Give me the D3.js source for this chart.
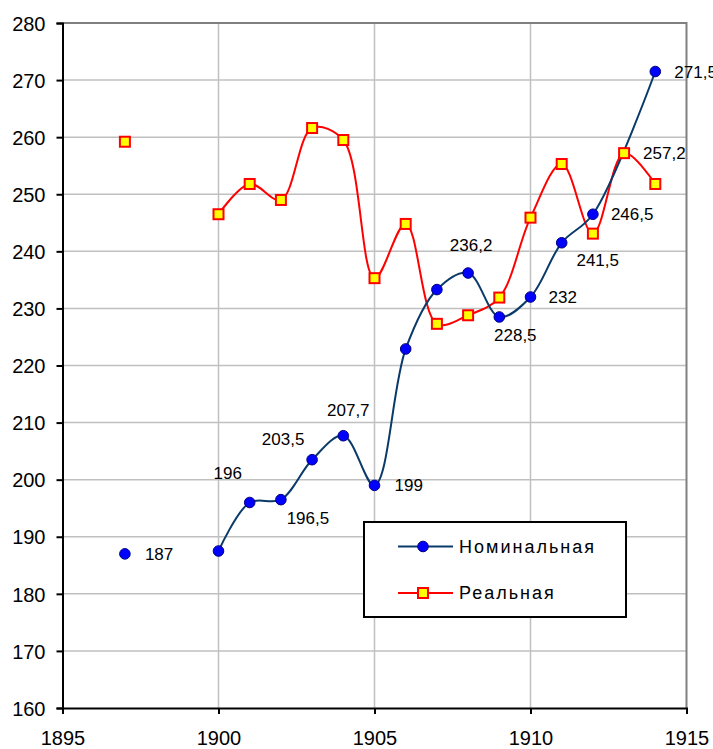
<!DOCTYPE html>
<html>
<head>
<meta charset="utf-8">
<script src="https://cdn.jsdelivr.net/npm/d3@7/dist/d3.min.js"></script>
<style>
  html, body { margin: 0; padding: 0; background: #fff; }
  svg { display: block; }
  text { font-family: Arial, "Liberation Sans", sans-serif; fill: #000; }
</style>
</head>
<body>
<svg id="chart" width="713" height="749"></svg>
<script>
// ---- data ----
const baseYear = 1897;
const nominalBase = 187;
const realBase = 259.2;

const years   = [1900, 1901, 1902, 1903, 1904, 1905, 1906, 1907, 1908, 1909, 1910, 1911, 1912, 1913, 1914];
const nominal = [187.5, 196, 196.5, 203.5, 207.7, 199, 222.9, 233.3, 236.2, 228.5, 232, 241.5, 246.5, null, 271.5];
const real    = [246.5, 251.8, 249.0, 261.6, 259.5, 235.3, 244.8, 227.3, 228.8, 231.9, 245.9, 255.3, 243.1, 257.2, 251.8];

const xTicks = [1895, 1900, 1905, 1910, 1915];
const yTicks = [160, 170, 180, 190, 200, 210, 220, 230, 240, 250, 260, 270, 280];
const seriesNames = ["Номинальная", "Реальная"];

// labelled points: [year, text]
const nominalLabels = [
  [1897, "187"], [1901, "196"], [1902, "196,5"], [1903, "203,5"], [1904, "207,7"],
  [1905, "199"], [1908, "236,2"], [1909, "228,5"], [1910, "232"], [1911, "241,5"],
  [1912, "246,5"], [1914, "271,5"]
];
const realLabels = [[1913, "257,2"]];

// ---- layout ----
const svg = d3.select("#chart");
const x = d3.scaleLinear().domain([1895, 1915]).range([62.5, 686.5]);
const y = d3.scaleLinear().domain([160, 280]).range([708, 23]);

const navy = "#0a3a6a";
const blue = "#0000ff";
const red = "#ff0000";
const yellow = "#ffff00";

// grid
svg.append("g").selectAll("line.h").data(yTicks.slice(1, -1)).join("line")
  .attr("x1", x(1895)).attr("x2", x(1915))
  .attr("y1", d => y(d)).attr("y2", d => y(d))
  .attr("stroke", "#c0c0c0").attr("stroke-width", 1.5);
svg.append("g").selectAll("line.v").data(xTicks.slice(1, -1)).join("line")
  .attr("y1", y(160)).attr("y2", y(280))
  .attr("x1", d => x(d)).attr("x2", d => x(d))
  .attr("stroke", "#c0c0c0").attr("stroke-width", 1.5);

// frame top/right
svg.append("path")
  .attr("d", `M${x(1895)},${y(280)}H${x(1915)}V${y(160)}`)
  .attr("fill", "none").attr("stroke", "#808080").attr("stroke-width", 2);

// axes
const yAxis = d3.axisLeft(y).tickValues(yTicks).tickSize(6).tickPadding(11).tickFormat(d3.format("d"));
const gy = svg.append("g").attr("transform", `translate(${x(1895)},0)`).call(yAxis);
const xAxis = d3.axisBottom(x).tickValues(xTicks).tickSize(6).tickPadding(18).tickFormat(d3.format("d"));
const gx = svg.append("g").attr("transform", `translate(0,${y(160)})`).call(xAxis);
[gx, gy].forEach(g => {
  g.select(".domain").attr("stroke", "#000").attr("stroke-width", 2);
  g.selectAll(".tick line").attr("stroke", "#000").attr("stroke-width", 2);
  g.selectAll(".tick text").style("font-size", "20px").attr("fill", "#000")
    .style("font-family", "Arial, 'Liberation Sans', sans-serif");
});
gy.selectAll(".tick text").attr("dy", "0.36em");
gx.selectAll(".tick text").attr("dy", "0.66em");

// lines
const line = d3.line().x(d => x(d[0])).y(d => y(d[1])).curve(d3.curveCatmullRom.alpha(0.5));
const nomPts = years.map((yr, i) => [yr, nominal[i]]).filter(d => d[1] != null);
const realPts = years.map((yr, i) => [yr, real[i]]).filter(d => d[1] != null);

svg.append("path").datum(realPts).attr("d", line)
  .attr("fill", "none").attr("stroke", red).attr("stroke-width", 2);
svg.append("path").datum(nomPts).attr("d", line)
  .attr("fill", "none").attr("stroke", navy).attr("stroke-width", 2);

// markers
const realAll = [[baseYear, realBase]].concat(realPts);
const nomAll = [[baseYear, nominalBase]].concat(nomPts);
const sq = 10;
svg.append("g").selectAll("rect").data(realAll).join("rect")
  .attr("x", d => x(d[0]) - sq / 2).attr("y", d => y(d[1]) - sq / 2)
  .attr("width", sq).attr("height", sq)
  .attr("fill", yellow).attr("stroke", red).attr("stroke-width", 2);
svg.append("g").selectAll("circle").data(nomAll).join("circle")
  .attr("cx", d => x(d[0])).attr("cy", d => y(d[1])).attr("r", 5.3)
  .attr("fill", blue).attr("stroke", "#000080").attr("stroke-width", 1);

// data labels
const place = {
  1897: [20, 0, "start"], 1901: [-22, -30, "middle"], 1902: [27, 18, "middle"],
  1903: [-29, -21, "middle"], 1904: [5, -26, "middle"], 1905: [20, 0, "start"],
  1908: [3, -28, "middle"], 1909: [16, 18, "middle"], 1910: [18, 0, "start"],
  1911: [36, 17, "middle"], 1912: [18, 0, "start"], 1914: [19, 0, "start"]
};
const nomLookup = new Map(nomAll.map(d => [d[0], d[1]]));
const realLookup = new Map(realAll.map(d => [d[0], d[1]]));
const lblG = svg.append("g").style("font-size", "17px");
nominalLabels.forEach(([yr, txt]) => {
  const p = place[yr];
  lblG.append("text")
    .attr("x", x(yr) + p[0]).attr("y", y(nomLookup.get(yr)) + p[1])
    .attr("dy", "0.36em").attr("text-anchor", p[2]).text(txt);
});
realLabels.forEach(([yr, txt]) => {
  lblG.append("text")
    .attr("x", x(yr) + 19).attr("y", y(realLookup.get(yr)))
    .attr("dy", "0.36em").attr("text-anchor", "start").text(txt);
});

// legend
const lg = svg.append("g");
lg.append("rect").attr("x", 364).attr("y", 522).attr("width", 262).attr("height", 95)
  .attr("fill", "#fff").attr("stroke", "#000").attr("stroke-width", 2);
const rows = [546.5, 593];
rows.forEach((ry, i) => {
  lg.append("line").attr("x1", 398).attr("x2", 453).attr("y1", ry).attr("y2", ry)
    .attr("stroke", i === 0 ? navy : red).attr("stroke-width", 2);
  if (i === 0) {
    lg.append("circle").attr("cx", 423).attr("cy", ry).attr("r", 5.3)
      .attr("fill", blue).attr("stroke", "#000080").attr("stroke-width", 1);
  } else {
    lg.append("rect").attr("x", 423 - sq / 2).attr("y", ry - sq / 2).attr("width", sq).attr("height", sq)
      .attr("fill", yellow).attr("stroke", red).attr("stroke-width", 2);
  }
  lg.append("text").attr("x", 459).attr("y", ry).attr("dy", "0.36em")
    .style("font-size", "18px").style("letter-spacing", "2px").text(seriesNames[i]);
});
</script>
</body>
</html>
